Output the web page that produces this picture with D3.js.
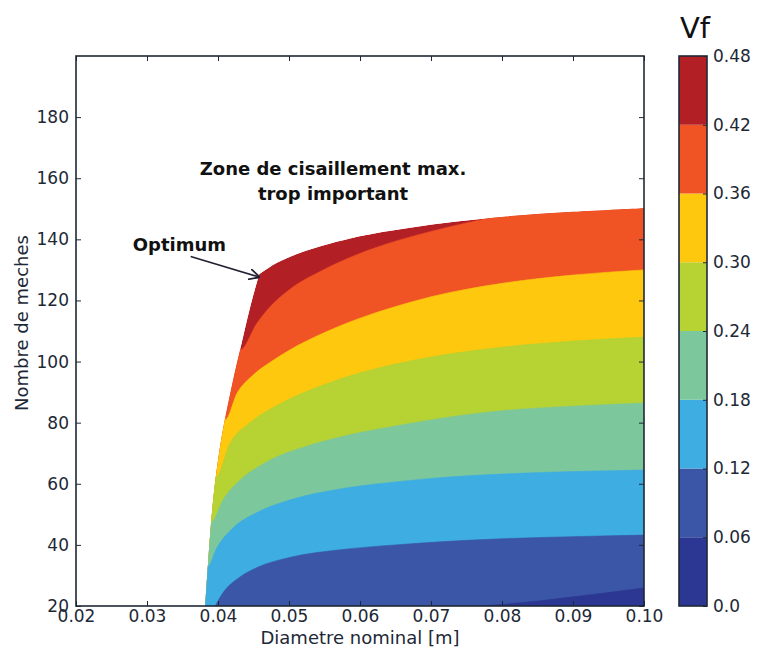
<!DOCTYPE html>
<html><head><meta charset="utf-8">
<script src="https://cdn.jsdelivr.net/npm/d3@7"></script>
<style>body{margin:0;background:#fff}svg{display:block;font-family:"DejaVu Sans",sans-serif}</style>
</head><body><svg id="c" width="757" height="651"></svg>
<script>
// ---- data ----
const xTicks = [0.02, 0.03, 0.04, 0.05, 0.06, 0.07, 0.08, 0.09, 0.10];
const yTicks = [20, 40, 60, 80, 100, 120, 140, 160, 180];
const cbTicks = [0, 0.06, 0.12, 0.18, 0.24, 0.30, 0.36, 0.42, 0.48];
const cbLabels = ["0.0", "0.06", "0.12", "0.18", "0.24", "0.30", "0.36", "0.42", "0.48"];
const bandColors = ["#2b3792", "#3b56a6", "#3eade2", "#7cc79c", "#b6d233", "#fec80f", "#f05324", "#b21f24"];

// feasible-region boundary [diameter, number of strands]
const leftBoundary = [[0.0382,20],[0.0386,34],[0.0390,46.5],[0.0394,56.5],[0.0399,66],[0.0406,76.5],[0.0414,86],[0.0422,94.8],[0.0431,103.8],[0.0441,113.8],[0.0450,122],[0.0458,128.5]];
const topBoundary = [[0.0458,128.5],[0.0483,132.3],[0.0516,135.6],[0.0548,138],[0.0586,140.3],[0.0624,142.1],[0.0713,145.2],[0.0807,147.5],[0.09,149],[0.10,150.2]];

// contour lines (Vf levels)
const c042 = [[0.0431,103.8],[0.0455,112.6],[0.0477,118.8],[0.0501,123.6],[0.055,130.2],[0.06,135.4],[0.065,139.4],[0.07,142.6],[0.08,147.8],[0.09,152],[0.10,155.6]];
const c036 = [[0.0410,80.9],[0.0427,89.7],[0.0449,95.5],[0.0475,100],[0.0501,103.8],[0.055,109.5],[0.06,114.2],[0.065,118],[0.07,121.2],[0.08,125.6],[0.09,128.3],[0.10,130]];
const c030 = [[0.0397,62.2],[0.0417,73.3],[0.0445,80],[0.0475,84.6],[0.0501,87.8],[0.055,92.5],[0.06,96.3],[0.065,99.2],[0.07,101.5],[0.08,104.7],[0.09,106.7],[0.10,108]];
const c024 = [[0.0390,47.2],[0.0407,54.7],[0.0431,61.2],[0.0455,65.3],[0.0477,68.2],[0.0525,72.3],[0.0572,75.3],[0.065,78.9],[0.0713,81.4],[0.08,83.9],[0.09,85.4],[0.10,86.4]];
const c018 = [[0.0385,32.8],[0.0399,39.3],[0.0421,45.5],[0.0455,50.6],[0.0501,54.7],[0.0572,58.3],[0.065,60.6],[0.0713,62],[0.08,63.2],[0.09,64],[0.10,64.5]];
const c012 = [[0.0396,20],[0.0407,24.3],[0.0431,29.5],[0.0455,32.6],[0.0501,35.9],[0.0572,38.4],[0.065,40],[0.0713,41],[0.08,42],[0.09,42.7],[0.10,43.2]];
const c006 = [[0.077,20],[0.085,21.6],[0.09,23],[0.095,24.4],[0.10,25.9]];

// ---- drawing ----
const svg = d3.select("#c");
const L = 76, R = 644, T = 56, B = 606;
const x = d3.scaleLinear([0.02, 0.10], [L, R]);
const y = d3.scaleLinear([20, 200], [B, T]);

const defs = svg.append("defs");
const bLine = d3.line().x(d => x(d[0])).y(d => y(d[1])).curve(d3.curveCatmullRom);
const feasible = bLine(leftBoundary) + "L" + bLine(topBoundary).slice(1) +
  `L${x(0.10)},${y(20)}L${x(leftBoundary[0][0])},${y(20)}Z`;
defs.append("clipPath").attr("id", "feas").append("path").attr("d", feasible);
defs.append("clipPath").attr("id", "plot").append("rect")
  .attr("x", L).attr("y", T).attr("width", R - L).attr("height", B - T);

const g = svg.append("g").attr("clip-path", "url(#plot)")
  .append("g").attr("clip-path", "url(#feas)");
g.append("path").attr("d", feasible).attr("fill", bandColors[7]);

const contours = [
  {pts: c042, band: 6, ext: true},
  {pts: c036, band: 5, ext: true},
  {pts: c030, band: 4, ext: true},
  {pts: c024, band: 3, ext: true},
  {pts: c018, band: 2, ext: true},
  {pts: c012, band: 1, ext: false},
  {pts: c006, band: 0, ext: false}
];
const area = d3.area().x(d => x(d[0])).y0(y(20)).y1(d => y(d[1])).curve(d3.curveMonotoneX);
contours.forEach(c => {
  let pts = c.pts;
  if (c.ext) pts = [[0.02, 215], [pts[0][0] - 0.0004, 215], ...pts];
  g.append("path").attr("d", area(pts)).attr("fill", bandColors[c.band])
    .attr("stroke", bandColors[c.band]).attr("stroke-width", 0.6);
});

// axes
const fs = "17px";
svg.append("g").attr("transform", `translate(0,${B})`)
  .call(d3.axisBottom(x).tickValues(xTicks).tickFormat(d3.format(".2f")).tickSizeInner(-5).tickSizeOuter(0).tickPadding(4));
svg.append("g").attr("transform", `translate(${L},0)`)
  .call(d3.axisLeft(y).tickValues(yTicks).tickFormat(d3.format("d")).tickSizeInner(-5).tickSizeOuter(0).tickPadding(7));
svg.append("g").attr("transform", `translate(0,${T})`)
  .call(d3.axisTop(x).tickValues(xTicks).tickFormat("").tickSizeInner(-5).tickSizeOuter(0));
svg.append("g").attr("transform", `translate(${R},0)`)
  .call(d3.axisRight(y).tickValues(yTicks).tickFormat("").tickSizeInner(-5).tickSizeOuter(0));
svg.selectAll(".domain").remove();
svg.selectAll(".tick line").attr("stroke", "#1d2836").attr("stroke-width", 1);
svg.selectAll(".tick text").attr("font-size", fs).attr("fill", "#1d2836").attr("font-family", "DejaVu Sans");
svg.append("rect").attr("x", L).attr("y", T).attr("width", R - L).attr("height", B - T)
  .attr("fill", "none").attr("stroke", "#1d2836").attr("stroke-width", 1.6);

svg.append("text").attr("x", (L + R) / 2).attr("y", 644).attr("text-anchor", "middle")
  .attr("font-size", "18px").attr("fill", "#1d2836").text("Diametre nominal [m]");
svg.append("text").attr("transform", `translate(28,${(T + B) / 2 - 8}) rotate(-90)`).attr("text-anchor", "middle")
  .attr("font-size", "18px").attr("fill", "#1d2836").text("Nombre de meches");

// annotations
svg.append("text").attr("x", x(0.0562)).attr("y", y(161)).attr("text-anchor", "middle")
  .attr("font-size", "18px").attr("font-weight", "bold").attr("fill", "#111").text("Zone de cisaillement max.");
svg.append("text").attr("x", x(0.0562)).attr("y", y(152.9)).attr("text-anchor", "middle")
  .attr("font-size", "18px").attr("font-weight", "bold").attr("fill", "#111").text("trop important");
svg.append("text").attr("x", x(0.0280)).attr("y", y(136.3))
  .attr("font-size", "18px").attr("font-weight", "bold").attr("fill", "#111").text("Optimum");
defs.append("marker").attr("id", "arr").attr("viewBox", "0 0 10 10").attr("refX", 10).attr("refY", 5)
  .attr("markerWidth", 7).attr("markerHeight", 7).attr("orient", "auto")
  .append("path").attr("d", "M0,0 L10,5 L0,10").attr("fill", "none").attr("stroke", "#223").attr("stroke-width", 1.6);
svg.append("line").attr("x1", x(0.03615)).attr("y1", y(134.4)).attr("x2", x(0.0459)).attr("y2", y(127.6))
  .attr("stroke", "#223").attr("stroke-width", 1.6).attr("marker-end", "url(#arr)");

// colorbar
const cbX = 679, cbW = 28;
const cy = d3.scaleLinear([0, 0.48], [B, T]);
const cb = svg.append("g");
cb.selectAll("rect.band").data(bandColors).join("rect").attr("class", "band")
  .attr("x", cbX).attr("width", cbW)
  .attr("y", (d, i) => cy(cbTicks[i + 1])).attr("height", (d, i) => cy(cbTicks[i]) - cy(cbTicks[i + 1]))
  .attr("fill", d => d);
cb.append("rect").attr("x", cbX).attr("y", T).attr("width", cbW).attr("height", B - T)
  .attr("fill", "none").attr("stroke", "#1d2836").attr("stroke-width", 1.6);
const cba = svg.append("g").attr("transform", `translate(${cbX + cbW},0)`)
  .call(d3.axisRight(cy).tickValues(cbTicks).tickFormat((d, i) => cbLabels[i]).tickSizeInner(-4).tickSizeOuter(0).tickPadding(6));
cba.select(".domain").remove();
cba.selectAll(".tick line").attr("stroke", "#1d2836");
cba.selectAll(".tick text").attr("font-size", fs).attr("fill", "#1d2836").attr("font-family", "DejaVu Sans");
svg.append("text").attr("x", cbX + 1).attr("y", 38).attr("font-size", "29px").attr("fill", "#111").text("Vf");
</script></body></html>
